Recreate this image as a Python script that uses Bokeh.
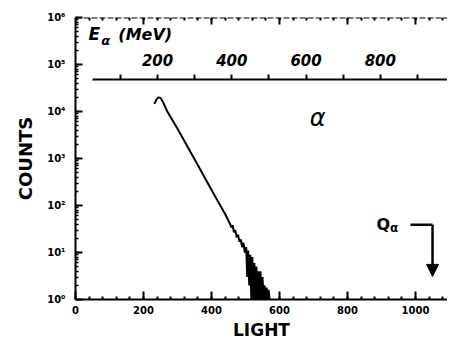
from bokeh.plotting import figure
from bokeh.models import (Range1d, LinearAxis, SingleIntervalTicker, FixedTicker, LogTicker,
                          CustomJSTickFormatter, Label, Arrow, NormalHead)
from bokeh.embed import file_html
from bokeh.resources import INLINE

# ---- data ----
light = [232, 238, 244, 250, 258, 270, 300, 330, 360, 390, 420, 440, 455,
         458, 462, 466, 470, 474, 478, 482, 486, 490, 494, 498, 502, 505, 508,
         511, 514, 517, 520, 523, 526, 529, 532, 535, 538, 541, 544, 547, 550,
         553, 556, 559, 562, 565, 568, 571]
counts = [14500, 18000, 20000, 19500, 15500, 10000, 4300, 1750, 720, 290, 118, 66, 40,
          34, 38, 27, 30, 21, 24, 17, 19, 13, 16, 10, 13, 3, 11,
          2, 9, 1, 8, 1, 6, 1, 5, 1, 4, 1, 4, 1, 3,
          1, 2, 1, 1.8, 1, 1.6, 1]

light_range = (0, 1094)
count_range = (1, 1e6)
light_tick_step = 200
e_range = (-21, 981)
e_major = [200, 400, 600, 800]
e_minor = [100, 300, 500, 700, 900]
e_axis_level = 4.8e4
q_light = 1050
q_top = 39
q_tip = 3.1

FONT = "DejaVu Sans"
INK = "black"

p = figure(width=447, height=342, x_range=Range1d(*light_range),
           y_range=Range1d(*count_range), y_axis_type="log",
           output_backend="svg", toolbar_location=None,
           min_border_left=75, min_border_right=0, min_border_top=17,
           min_border_bottom=42, background_fill_color="white")
p.outline_line_color = None
p.grid.visible = False

p.line(light, counts, line_color=INK, line_width=2)

# bottom axis
xa = p.xaxis[0]
xa.ticker = SingleIntervalTicker(interval=light_tick_step, num_minor_ticks=5)
xa.major_tick_in = 8
xa.major_tick_out = 0
xa.minor_tick_in = 3
xa.minor_tick_out = 0
xa.axis_line_width = 2
xa.axis_line_color = INK
xa.major_tick_line_color = INK
xa.minor_tick_line_color = INK
xa.major_tick_line_width = 2
xa.minor_tick_line_width = 2
xa.major_label_text_font = FONT
xa.major_label_text_font_style = "bold"
xa.major_label_text_font_size = "10px"
xa.major_label_text_color = INK
xa.major_label_standoff = 6
xa.axis_label = "LIGHT"
xa.axis_label_text_font = FONT
xa.axis_label_text_font_style = "bold"
xa.axis_label_text_font_size = "17px"
xa.axis_label_text_color = INK
xa.axis_label_standoff = 3

# left axis
ya = p.yaxis[0]
ya.ticker = LogTicker(num_minor_ticks=10)
ya.formatter = CustomJSTickFormatter(code="""
const sup = ['\u2070','\u00b9','\u00b2','\u00b3','\u2074','\u2075','\u2076','\u2077'];
const n = Math.round(Math.log10(tick));
return '10' + sup[n];
""")
ya.major_tick_in = 7
ya.major_tick_out = 0
ya.minor_tick_in = 3
ya.minor_tick_out = 0
ya.axis_line_width = 2
ya.axis_line_color = INK
ya.major_tick_line_color = INK
ya.minor_tick_line_color = INK
ya.major_tick_line_width = 2
ya.minor_tick_line_width = 1.5
ya.major_label_text_font = FONT
ya.major_label_text_font_style = "bold"
ya.major_label_text_font_size = "10px"
ya.major_label_text_color = INK
ya.major_label_standoff = 10
ya.axis_label = "COUNTS"
ya.axis_label_text_font = FONT
ya.axis_label_text_font_style = "bold"
ya.axis_label_text_font_size = "18px"
ya.axis_label_text_color = INK
ya.axis_label_standoff = 8

# top frame axis (light scale, ticks inward, no labels)
top = LinearAxis(ticker=SingleIntervalTicker(interval=light_tick_step, num_minor_ticks=5),
                 formatter=CustomJSTickFormatter(code="return '';"),
                 fixed_location=count_range[1],
                 major_tick_in=7, major_tick_out=0, minor_tick_in=3, minor_tick_out=0,
                 axis_line_width=2, major_tick_line_width=2, minor_tick_line_width=2,
                 axis_line_color=INK, major_tick_line_color=INK, minor_tick_line_color=INK,
                 axis_line_dash="6 2")
p.add_layout(top, "above")

# energy axis inside the plot
p.extra_x_ranges = {"E": Range1d(*e_range)}
eax = LinearAxis(x_range_name="E", fixed_location=e_axis_level,
                 ticker=FixedTicker(ticks=e_major, minor_ticks=e_minor),
                 bounds=(24, e_range[1]),
                 major_tick_in=0, major_tick_out=5, minor_tick_in=0, minor_tick_out=5,
                 axis_line_width=2, major_tick_line_width=2, minor_tick_line_width=2,
                 axis_line_color=INK, major_tick_line_color=INK, minor_tick_line_color=INK,
                 major_label_text_font=FONT, major_label_text_font_style="bold italic",
                 major_label_text_font_size="15px", major_label_text_color=INK,
                 major_label_standoff=8)
p.add_layout(eax, "above")

lab = dict(text_font=FONT, text_color=INK, text_baseline="middle")
p.add_layout(Label(x=38, y=4.4e5, text="E", text_font_size="17px",
                   text_font_style="bold italic", **lab))
p.add_layout(Label(x=76, y=3.2e5, text="α", text_font_size="13px",
                   text_font_style="bold italic", **lab))
p.add_layout(Label(x=126, y=4.4e5, text="(MeV)", text_font_size="16px",
                   text_font_style="bold italic", **lab))

p.add_layout(Label(x=712, y=7200, text="α", text_font_size="24px",
                   text_font_style="italic", text_align="center", **lab))

p.add_layout(Label(x=885, y=40, text="Q", text_font_size="16px",
                   text_font_style="bold", **lab))
p.add_layout(Label(x=925, y=33, text="α", text_font_size="12px",
                   text_font_style="bold", **lab))
p.segment(x0=[985], y0=[q_top], x1=[q_light], y1=[q_top], line_color=INK, line_width=2.5)
p.add_layout(Arrow(end=NormalHead(size=12, fill_color=INK, line_color=INK),
                   x_start=q_light, y_start=q_top, x_end=q_light, y_end=q_tip,
                   line_color=INK, line_width=2.5))

open("out.html", "w").write(file_html(p, INLINE))
